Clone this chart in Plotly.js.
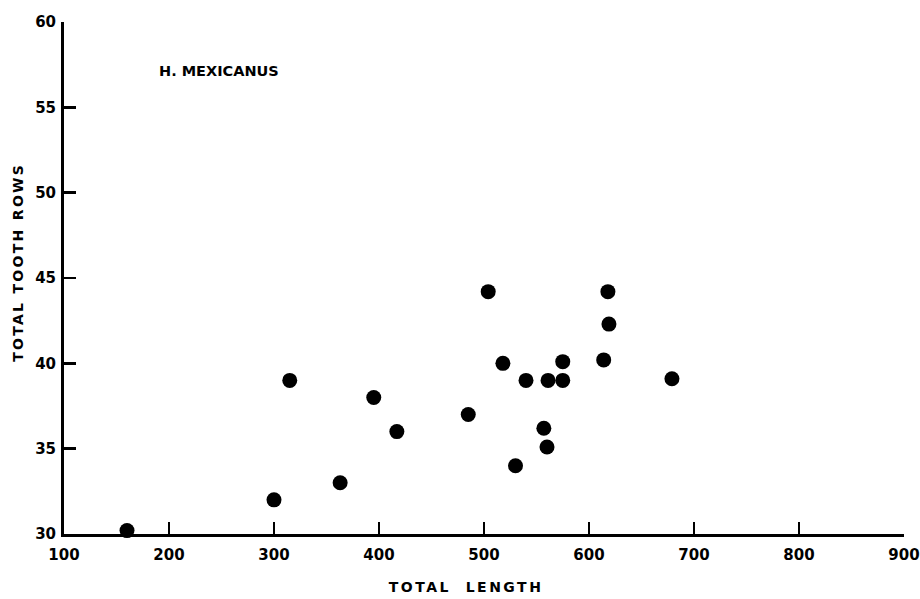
<!DOCTYPE html>
<html>
<head>
<meta charset="utf-8">
<script src="https://cdn.plot.ly/plotly-3.0.1.min.js"></script>
<style>html,body{margin:0;padding:0;background:#fff;}#chart{width:920px;height:599px;}</style>
</head>
<body>
<div id="chart"></div>
<script>
const totalLength = [160, 300, 315, 363, 395, 417, 485, 504, 518, 530, 540, 557, 561, 560, 575, 575, 614, 618, 619, 679];
const toothRows   = [30.2, 32, 39, 33, 38, 36, 37, 44.2, 40, 34, 39, 36.2, 39, 35.1, 40.1, 39, 40.2, 44.2, 42.3, 39.1];
const xTicks = [100, 200, 300, 400, 500, 600, 700, 800, 900];
const yTicks = [30, 35, 40, 45, 50, 55, 60];
const speciesLabel = "H. MEXICANUS";
const xTitle = "TOTAL  LENGTH";
const yTitle = "TOTAL TOOTH ROWS";

const bold = (s) => ({family: "DejaVu Sans", size: s, color: "#000", weight: 700});

const trace = {
  x: totalLength, y: toothRows, type: "scatter", mode: "markers",
  marker: {color: "#000", size: 15}, cliponaxis: false, hoverinfo: "skip"
};

const layout = {
  width: 920, height: 599,
  margin: {l: 64, r: 16, t: 22, b: 65},
  paper_bgcolor: "#fff", plot_bgcolor: "#fff",
  showlegend: false,
  font: bold(14),
  xaxis: {
    range: [100, 900], tickvals: xTicks, ticktext: xTicks.map(String),
    showgrid: false, zeroline: false, showline: true, linewidth: 3, linecolor: "#000",
    ticks: "inside", ticklen: 12, tickwidth: 2.5, tickcolor: "#000",
    ticklabelstandoff: 5,
    tickfont: bold(15)
  },
  yaxis: {
    range: [30, 60], tickvals: yTicks, ticktext: yTicks.map(String),
    showgrid: false, zeroline: false, showline: true, linewidth: 3, linecolor: "#000",
    ticks: "inside", ticklen: 12, tickwidth: 2.5, tickcolor: "#000",
    ticklabelstandoff: 2,
    tickfont: bold(15)
  },
  annotations: [
    {text: speciesLabel, xref: "x", yref: "y", x: 248, y: 57.1, showarrow: false, font: bold(14.5)},
    {text: xTitle, xref: "paper", yref: "paper", x: 0.478, y: -0.104, yanchor: "middle",
     showarrow: false, font: bold(14)},
    {text: yTitle, xref: "paper", yref: "paper", x: -0.055, y: 0.53, xanchor: "center",
     textangle: -90, showarrow: false, font: bold(14)}
  ]
};

Plotly.newPlot("chart", [trace], layout, {staticPlot: true, displayModeBar: false}).then(() => {
  const texts = document.querySelectorAll(".annotation-text");
  texts.forEach(t => {
    const s = t.textContent;
    if (s === xTitle) t.style.letterSpacing = "2.5px";
    if (s === yTitle) t.style.letterSpacing = "2.3px";
  });
});
</script>
</body>
</html>
